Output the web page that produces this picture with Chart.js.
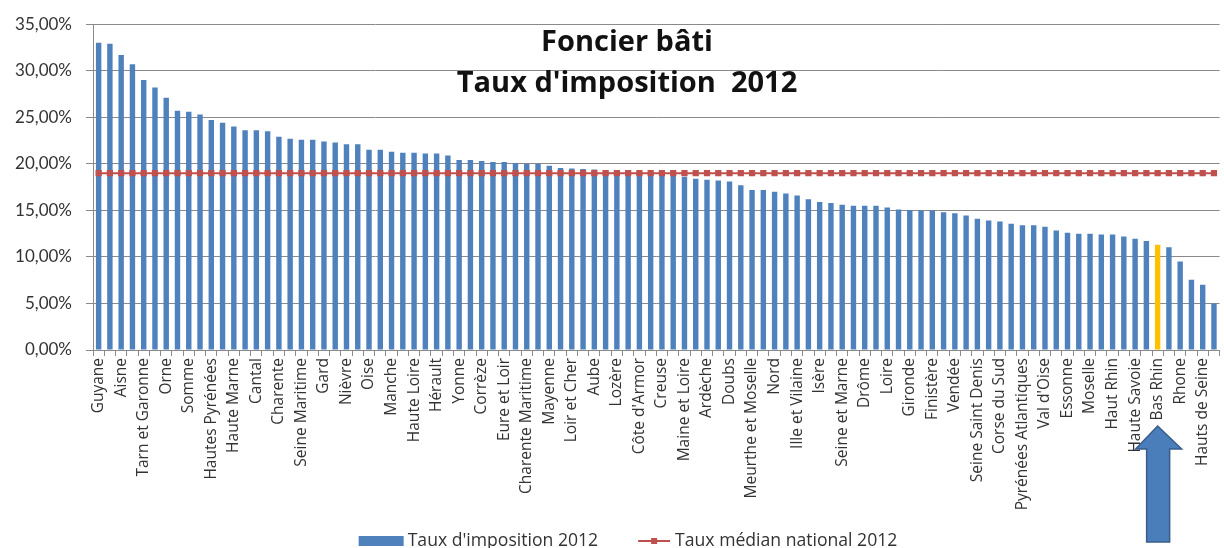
<!DOCTYPE html>
<html>
<head>
<meta charset="utf-8">
<script src="https://cdn.jsdelivr.net/npm/chart.js@4.4.1/dist/chart.umd.min.js"></script>
<style>
  html, body { margin: 0; padding: 0; background: #fff; overflow: hidden; }
  #wrap { width: 1224px; height: 548px; position: relative; }
</style>
</head>
<body>
<div id="wrap"><canvas id="c"></canvas></div>
<script>
// ---- DATA ----
// Labelled departments (every second bar carries a label in the original chart)
const labelledDepartments = [
  'Guyane', 'Aisne', 'Tarn et Garonne', 'Orne', 'Somme', 'Hautes Pyrénées', 'Haute Marne', 'Cantal',
  'Charente', 'Seine Maritime', 'Gard', 'Nièvre', 'Oise', 'Manche', 'Haute Loire', 'Hérault',
  'Yonne', 'Corrèze', 'Eure et Loir', 'Charente Maritime', 'Mayenne', 'Loir et Cher', 'Aube', 'Lozère',
  "Côte d'Armor", 'Creuse', 'Maine et Loire', 'Ardèche', 'Doubs', 'Meurthe et Moselle', 'Nord', 'Ille et Vilaine',
  'Isère', 'Seine et Marne', 'Drôme', 'Loire', 'Gironde', 'Finistère', 'Vendée', 'Seine Saint Denis',
  'Corse du Sud', 'Pyrénées Atlantiques', "Val d'Oise", 'Essonne', 'Moselle', 'Haut Rhin', 'Haute Savoie', 'Bas Rhin',
  'Rhone', 'Hauts de Seine'
];
// 100 categories: labelled ones at even positions, unlabelled ones in between
const categories = [];
labelledDepartments.forEach(name => { categories.push(name); categories.push(''); });

// Taux d'imposition 2012 (%)
const tauxImposition2012 = [
  33.0, 32.9, 31.7, 30.7, 29.0, 28.2, 27.1, 25.7, 25.6, 25.3,
  24.7, 24.4, 24.0, 23.6, 23.6, 23.5, 22.9, 22.7, 22.6, 22.6,
  22.4, 22.3, 22.1, 22.1, 21.5, 21.5, 21.3, 21.2, 21.2, 21.1,
  21.1, 20.9, 20.4, 20.4, 20.3, 20.2, 20.2, 20.1, 20.0, 20.0,
  19.8, 19.55, 19.5, 19.45, 19.4, 19.3, 19.2, 19.2, 19.1, 19.05,
  19.0, 18.7, 18.6, 18.4, 18.3, 18.2, 18.1, 17.7, 17.2, 17.2,
  17.0, 16.8, 16.6, 16.2, 15.9, 15.8, 15.6, 15.5, 15.5, 15.5,
  15.3, 15.1, 15.05, 15.0, 15.0, 14.8, 14.7, 14.45, 14.1, 13.9,
  13.8, 13.55, 13.4, 13.4, 13.25, 12.85, 12.6, 12.5, 12.5, 12.4,
  12.4, 12.2, 11.95, 11.7, 11.3, 11.05, 9.5, 7.55, 7.0, 5.0
];
// Taux médian national 2012 (%), a single national value
const tauxMedianNational2012 = 19.0;
const medianSeries = categories.map(() => tauxMedianNational2012);

const yTicks = [0, 5, 10, 15, 20, 25, 30, 35];
const highlighted = 'Bas Rhin';
const titleLines = ['Foncier bâti', "Taux d'imposition  2012"];

// ---- STYLE ----
const FONT = '"Open Sans", Lato, sans-serif';
const YFONT = 'Lato, "Open Sans", sans-serif';
const BLUE = '#4F81BD';
const YELLOW = '#FFC000';
const RED = '#C0504D';
const GRID = '#8a8a8a';
const TEXT = '#333333';

const hiIndex = categories.indexOf(highlighted);
const barColors = tauxImposition2012.map((v, i) => i === hiIndex ? YELLOW : BLUE);

const titlePlugin = {
  id: 'titleOverlay',
  afterDatasetsDraw(chart) {
    const ctx = chart.ctx;
    ctx.save();
    ctx.fillStyle = '#111';
    ctx.font = 'bold 29px ' + FONT;
    ctx.textAlign = 'center';
    ctx.textBaseline = 'alphabetic';
    ctx.fillText(titleLines[0], 627, 51);
    ctx.fillText(titleLines[1], 627, 92);
    ctx.restore();
  }
};

const legendPlugin = {
  id: 'customLegend',
  afterDraw(chart) {
    const ctx = chart.ctx;
    const ds = chart.data.datasets;
    ctx.save();
    ctx.font = '17.6px ' + FONT;
    ctx.textBaseline = 'middle';
    const y = 541;
    const w1 = ctx.measureText(ds[0].label).width;
    const w2 = ctx.measureText(ds[1].label).width;
    const total = 45 + 4 + w1 + 40 + 32 + 5 + w2;
    let x = 628 - total / 2;
    ctx.fillStyle = BLUE;
    ctx.fillRect(x, y - 5, 45, 10);
    x += 49;
    ctx.fillStyle = TEXT;
    ctx.fillText(ds[0].label, x, y);
    x += w1 + 40;
    ctx.strokeStyle = RED;
    ctx.lineWidth = 2;
    ctx.beginPath(); ctx.moveTo(x, y); ctx.lineTo(x + 32, y); ctx.stroke();
    ctx.fillStyle = RED;
    ctx.fillRect(x + 16 - 3, y - 3, 6, 6);
    x += 37;
    ctx.fillStyle = TEXT;
    ctx.fillText(ds[1].label, x, y);
    ctx.restore();
  }
};

const arrowPlugin = {
  id: 'arrow',
  afterDraw(chart) {
    const xs = chart.scales.x;
    const cx = xs.getPixelForValue(hiIndex);
    const ctx = chart.ctx;
    ctx.save();
    ctx.beginPath();
    ctx.moveTo(cx, 426);
    ctx.lineTo(cx + 24, 449);
    ctx.lineTo(cx + 12, 449);
    ctx.lineTo(cx + 12, 542);
    ctx.lineTo(cx - 11, 542);
    ctx.lineTo(cx - 11, 449);
    ctx.lineTo(cx - 22, 449);
    ctx.closePath();
    ctx.fillStyle = '#4A7EBB';
    ctx.fill();
    ctx.strokeStyle = '#385D8A';
    ctx.lineWidth = 1.5;
    ctx.stroke();
    ctx.restore();
  }
};

new Chart(document.getElementById('c'), {
  type: 'bar',
  data: {
    labels: categories,
    datasets: [
      {
        type: 'bar',
        label: "Taux d'imposition 2012",
        data: tauxImposition2012,
        backgroundColor: barColors,
        barPercentage: 0.48,
        categoryPercentage: 1.0,
        order: 1
      },
      {
        type: 'line',
        label: 'Taux médian national 2012',
        data: medianSeries,
        borderColor: RED,
        backgroundColor: RED,
        borderWidth: 2,
        pointStyle: 'rect',
        pointRadius: 4.4,
        pointBackgroundColor: RED,
        pointBorderWidth: 0,
        order: 0
      }
    ]
  },
  options: {
    responsive: true,
    maintainAspectRatio: false,
    animation: false,
    layout: { padding: { top: 23, right: 0, bottom: 0, left: 0 } },
    plugins: {
      legend: { display: false },
      title: { display: false },
      tooltip: { enabled: false }
    },
    scales: {
      x: {
        offset: true,
        grid: { display: true, drawOnChartArea: false, drawTicks: true, tickLength: 6, color: GRID, offset: true },
        border: { display: true, color: GRID, width: 1 },
        ticks: {
          autoSkip: false, maxRotation: 90, minRotation: 90, padding: 2,
          color: TEXT, font: { family: FONT, size: 15.5 }
        },
        afterFit(scale) { scale.height = 198; scale.paddingLeft = 0; scale.paddingRight = 0; }
      },
      y: {
        min: 0, max: 35,
        afterBuildTicks(scale) { scale.ticks = yTicks.map(v => ({ value: v })); },
        grid: { color: GRID, lineWidth: 1, drawTicks: true, tickLength: 7 },
        border: { display: true, color: GRID, width: 1 },
        ticks: {
          padding: 14, color: TEXT, font: { family: YFONT, size: 17 },
          callback: v => v.toFixed(2).replace('.', ',') + '%'
        },
        afterFit(scale) { scale.width = 93; }
      }
    }
  },
  plugins: [titlePlugin, legendPlugin, arrowPlugin]
});
</script>
</body>
</html>
